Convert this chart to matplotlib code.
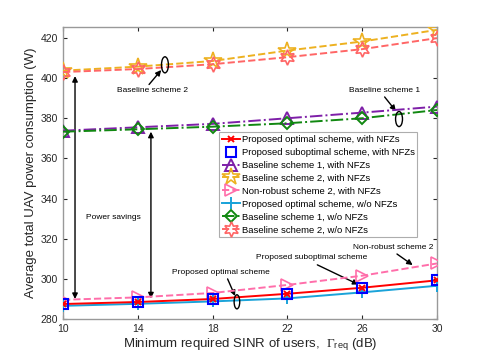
import matplotlib
matplotlib.use("Agg")
import matplotlib.pyplot as plt
from matplotlib.patches import Ellipse

plt.rcParams['font.family'] = ['Liberation Sans', 'DejaVu Sans']
plt.rcParams['mathtext.fontset'] = 'custom'
plt.rcParams['mathtext.rm'] = 'Liberation Serif'
plt.rcParams['mathtext.sf'] = 'Liberation Sans'
plt.rcParams['mathtext.it'] = 'Liberation Serif:italic'

sinr = [10, 14, 18, 22, 26, 30]
opt_nfz = [287.5, 288.5, 290.0, 292.6, 295.6, 299.3]
subopt_nfz = [287.3, 288.3, 289.9, 292.5, 295.6, 299.3]
bs1_nfz = [373.8, 375.5, 377.2, 380.0, 382.8, 385.8]
bs2_nfz = [403.7, 405.7, 408.5, 413.7, 418.2, 424.0]
nonrob_nfz = [289.6, 290.8, 293.0, 297.0, 301.6, 307.7]
opt_wo = [286.6, 287.6, 288.8, 290.3, 293.3, 296.6]
bs1_wo = [373.3, 374.5, 375.8, 377.5, 380.0, 384.1]
bs2_wo = [403.0, 404.5, 406.9, 410.4, 414.4, 419.9]

labels = ['Proposed optimal scheme, with NFZs',
          'Proposed suboptimal scheme, with NFZs',
          'Baseline scheme 1, with NFZs',
          'Baseline scheme 2, with NFZs',
          'Non-robust scheme 2, with NFZs',
          'Proposed optimal scheme, w/o NFZs',
          'Baseline scheme 1, w/o NFZs',
          'Baseline scheme 2, w/o NFZs']

fig = plt.figure(figsize=(4.85, 3.63), dpi=100)
ax = fig.add_axes([0.130, 0.121, 0.771, 0.805])

lw = 1.4
ax.plot(sinr, opt_nfz, '-', color='#FF0000', marker='x', ms=5, mew=1.4, lw=lw, label=labels[0], zorder=5)
ax.plot(sinr, subopt_nfz, linestyle='none', color='#0000FF', marker='s', ms=6.5, mfc='none', mew=1.5, label=labels[1], zorder=6)
ax.plot(sinr, bs1_nfz, '-.', color='#7E1FA8', marker='^', ms=9, mfc='none', mew=1.4, lw=lw, label=labels[2], zorder=4)
ax.plot(sinr, bs2_nfz, '--', color='#EDB120', marker='*', ms=13, mfc='none', mew=1.2, lw=lw, label=labels[3], zorder=3)
ax.plot(sinr, nonrob_nfz, '--', color='#FF6EAA', marker='>', ms=8, mfc='none', mew=1.2, lw=lw, label=labels[4], zorder=4)
ax.plot(sinr, opt_wo, '-', color='#1AA3D9', marker='+', ms=9, mew=1.4, lw=lw, label=labels[5], zorder=4)
ax.plot(sinr, bs1_wo, '-.', color='#118811', marker='D', ms=6.5, mfc='none', mew=1.4, lw=lw, label=labels[6], zorder=4)
ax.plot(sinr, bs2_wo, '--', color='#FF6666', marker=(6, 1, 0), ms=11, mfc='none', mew=1.2, lw=lw, label=labels[7], zorder=3)

ax.set_xlim(10, 30)
ax.set_ylim(280, 425.5)
ax.set_xticks(sinr)
ax.set_yticks(list(range(280, 421, 20)))
ax.tick_params(direction='in', labelsize=7.5, colors='#262626', length=3, top=True, right=True)
for s in ax.spines.values():
    s.set_color('#999999')
    s.set_linewidth(1.0)

ax.set_xlabel(r'Minimum required SINR of users,  $\Gamma_{\mathsf{req}}$ (dB)', fontsize=9.5, color='#262626', labelpad=2)
ax.set_ylabel('Average total UAV power consumption (W)', fontsize=9.5, color='#262626', labelpad=3)

leg = ax.legend(loc='upper left', bbox_to_anchor=(0.417, 0.640), fontsize=6.8, frameon=True,
                fancybox=False, edgecolor='#999999', handlelength=1.9, handletextpad=0.2,
                labelspacing=0.42, borderpad=0.3, borderaxespad=0)
leg.get_frame().set_linewidth(0.8)

# annotations
afs = 6
arrow = dict(arrowstyle='-|>', color='black', lw=1.0, mutation_scale=8, shrinkA=0, shrinkB=0)
ax.add_patch(Ellipse((15.45, 406.6), 0.37, 8.0, fill=False, ec='black', lw=1.0, zorder=7))
ax.annotate('', xy=(15.25, 404.0), xytext=(14.6, 396.8), arrowprops=arrow)
ax.text(14.76, 393.6, 'Baseline scheme 2', fontsize=afs, ha='center', va='center')

ax.add_patch(Ellipse((27.97, 379.6), 0.37, 7.5, fill=False, ec='black', lw=1.0, zorder=7))
ax.annotate('', xy=(27.8, 383.6), xytext=(27.2, 390.6), arrowprops=arrow)
ax.text(27.2, 393.6, 'Baseline scheme 1', fontsize=afs, ha='center', va='center')

ax.add_patch(Ellipse((19.3, 288.6), 0.3, 7.0, fill=False, ec='black', lw=1.0, zorder=7))
ax.annotate('', xy=(19.2, 291.5), xytext=(18.8, 300.0), arrowprops=arrow)
ax.text(18.45, 303.0, 'Proposed optimal scheme', fontsize=afs, ha='center', va='center')

ax.annotate('', xy=(25.8, 297.2), xytext=(23.6, 307.0), arrowprops=arrow)
ax.text(23.3, 310.7, 'Proposed suboptimal scheme', fontsize=afs, ha='center', va='center')

ax.annotate('', xy=(28.7, 306.9), xytext=(27.86, 312.4), arrowprops=arrow)
ax.text(27.65, 315.7, 'Non-robust scheme 2', fontsize=afs, ha='center', va='center')

darrow = dict(arrowstyle='<|-|>', color='black', lw=1.0, mutation_scale=8, shrinkA=0, shrinkB=0)
ax.annotate('', xy=(10.64, 401.0), xytext=(10.64, 290.0), arrowprops=darrow)
ax.annotate('', xy=(14.7, 373.3), xytext=(14.7, 290.3), arrowprops=darrow)
ax.text(12.67, 330.8, 'Power savings', fontsize=afs, ha='center', va='center')

fig.savefig('out.png', dpi=100)
